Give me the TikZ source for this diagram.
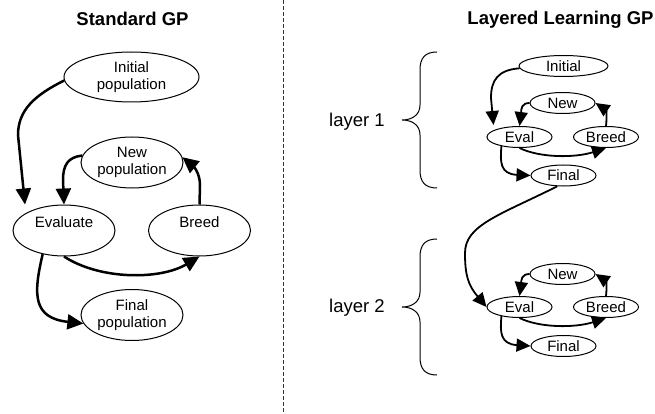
\documentclass[tikz,border=0pt]{standalone}
\usepackage{fontspec}
\setmainfont{Liberation Sans}
\usetikzlibrary{shapes.geometric, arrows.meta}
\definecolor{sepGray}{HTML}{333333}

\begin{document}
\begin{tikzpicture}[x=1pt,y=-1pt,
  stage/.style={ellipse, draw, line width=1pt, inner sep=0pt, align=center, font=\fontsize{15}{17}\selectfont},
  bigstage/.style={stage, minimum width=102pt, minimum height=51pt},
  smallstage/.style={stage, minimum width=65pt, minimum height=21pt},
  oneline/.style={text depth=16.5pt},
  flow/.style={line width=2.5pt, -{Triangle[length=16pt,width=15pt]}},
  smallflow/.style={line width=1.8pt, -{Triangle[length=14pt,width=13pt]}},
  title/.style={font=\fontsize{18.5}{22}\selectfont\bfseries},
  layerlabel/.style={font=\fontsize{18.5}{22}\selectfont},
  layerbrace/.style={line width=1pt}]
\useasboundingbox (0,0) rectangle (655,414);

% separator
\draw[sepGray, line width=1pt, dash pattern=on 4pt off 2pt] (283,0) -- (283,414);

% standard GP
\node[title] (stdtitle) at (132.5,19) {Standard GP};
\node[bigstage, minimum width=135pt, minimum height=50pt] (inipop) at (131.5,77) {Initial\\population};
\node[bigstage] (newpop) at (132,162.5) {New\\population};
\node[bigstage, oneline] (evaluate) at (64,230.5) {Evaluate};
\node[bigstage, oneline] (breed) at (199.5,230.5) {Breed};
\node[bigstage] (finalpop) at (132,315) {Final\\population};

\draw[flow] (inipop.183) .. controls (35,95) and (18,110) .. (18,135) -- ([shift={(-39,-26)}]evaluate.center);
\draw[flow] (newpop.172) .. controls (68,157) and (63,165) .. (63,180) -- (evaluate.north);
\draw[flow] (breed.north) -- (200,185) .. controls (200,172) and (192,165) .. (newpop.6);
\draw[flow] (evaluate.south) .. controls (100,280) and (160,280) .. (breed.south);
\draw[flow] (evaluate.228) .. controls (33,295) and (33,318) .. (finalpop.190);

% layered learning GP
\node[title] (lltitle) at (560.5,20) {Layered Learning GP};
\node[layerlabel] (lay1) at (357,122) {layer 1};
\node[layerlabel] (lay2) at (357,308) {layer 2};

\draw[layerbrace] (437,52) .. controls (425,52) and (420,58) .. (420,70) -- (420,105)
  .. controls (420,115) and (412,120) .. (402,120) .. controls (412,120) and (420,125) .. (420,135)
  -- (420,170) .. controls (420,182) and (425,188) .. (437,188);
\draw[layerbrace, shift={(0,187)}] (437,52) .. controls (425,52) and (420,58) .. (420,70) -- (420,105)
  .. controls (420,115) and (412,120) .. (402,120) .. controls (412,120) and (420,125) .. (420,135)
  -- (420,170) .. controls (420,182) and (425,188) .. (437,188);

% layer 1
\node[smallstage, minimum width=89pt] (ini1) at (563.5,66) {Initial};
\node[smallstage] (new1) at (562.5,103) {New};
\node[smallstage] (eva1) at (519.5,137) {Eval};
\node[smallstage] (brd1) at (606,137) {Breed};
\node[smallstage] (fin1) at (563.5,175.5) {Final};

\draw[smallflow] (ini1.183) .. controls (498,70) and (491,80) .. (491,98) -- ([shift={(-26,-12)}]eva1.center);
\draw[smallflow] (new1.west) .. controls (522,103) and (521,108) .. (521,114) -- (eva1.north);
\draw[smallflow] (brd1.north) .. controls (607,118) and (606,110) .. (new1.east);
\draw[smallflow] (eva1.south) .. controls (540,158) and (575,158) .. (brd1.south);
\draw[smallflow] (eva1.207) .. controls (500,162) and (500,174) .. (fin1.west);

% layer 2
\node[smallstage] (new2) at (562.5,274) {New};
\node[smallstage] (eva2) at (519.5,307) {Eval};
\node[smallstage] (brd2) at (606,307) {Breed};
\node[smallstage] (fin2) at (563.5,346) {Final};

\draw[smallflow] (fin1.240) .. controls (500,215) and (465,225) .. (465,253) .. controls (465,275) and (468,285) .. (eva2.west);
\draw[smallflow] (new2.west) .. controls (522,274) and (521,279) .. (521,285) -- (eva2.north);
\draw[smallflow] (brd2.north) .. controls (607,288) and (606,281) .. (new2.east);
\draw[smallflow] (eva2.south) .. controls (540,328) and (575,328) .. (brd2.south);
\draw[smallflow] (eva2.207) .. controls (500,332) and (500,344) .. (fin2.west);
\end{tikzpicture}
\end{document}
